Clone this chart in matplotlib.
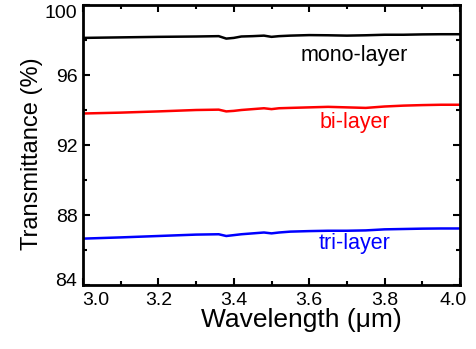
import matplotlib
matplotlib.use("Agg")
import matplotlib.pyplot as plt
from matplotlib.ticker import MultipleLocator
from matplotlib.transforms import ScaledTranslation

plt.rcParams['font.family'] = ['Liberation Sans', 'DejaVu Sans']

# wavelength (um) and transmittance (%)
wavelength = [3.00, 3.10, 3.20, 3.30, 3.36, 3.38, 3.40, 3.42, 3.45, 3.48, 3.50, 3.52,
              3.55, 3.60, 3.65, 3.70, 3.75, 3.80, 3.85, 3.90, 3.95, 4.00]
mono_layer = [98.12, 98.15, 98.18, 98.2, 98.22, 98.08, 98.12, 98.2, 98.22, 98.25, 98.18, 98.22,
              98.25, 98.28, 98.27, 98.25, 98.27, 98.3, 98.3, 98.32, 98.33, 98.33]
bi_layer = [93.8, 93.85, 93.92, 94.0, 94.02, 93.92, 93.95, 94.0, 94.05, 94.1, 94.05, 94.1,
            94.12, 94.15, 94.18, 94.15, 94.12, 94.2, 94.25, 94.28, 94.3, 94.3]
tri_layer = [86.65, 86.72, 86.8, 86.88, 86.9, 86.8, 86.85, 86.9, 86.95, 87.0, 86.95, 87.0,
             87.05, 87.08, 87.1, 87.1, 87.12, 87.18, 87.2, 87.22, 87.23, 87.23]

x_ticks = [3.0, 3.2, 3.4, 3.6, 3.8, 4.0]
x_ticklabels = ['3.0', '3.2', '3.4', '3.6', '3.8', '4.0']
y_ticks = [84, 88, 92, 96, 100]
y_ticklabels = ['84', '88', '92', '96', '100']

series = [
    (mono_layer, 'black', 'mono-layer', 97.1),
    (bi_layer, 'red', 'bi-layer', 93.3),
    (tri_layer, 'blue', 'tri-layer', 86.4),
]

fig = plt.figure(figsize=(4.77, 3.49), dpi=100)
ax = fig.add_axes([83 / 477, 1 - 285 / 349, 377 / 477, 280 / 349])

for values, color, label, ypos in series:
    ax.plot(wavelength, values, color=color, lw=1.8)
    ax.text(3.72, ypos, label, color=color, fontsize=15.5, ha='center', va='center')

ax.set_xticks(x_ticks, x_ticklabels)
ax.set_yticks(y_ticks, y_ticklabels)
ax.xaxis.set_minor_locator(MultipleLocator(0.1))
ax.yaxis.set_minor_locator(MultipleLocator(2))
ax.set_xlim(3.0, 4.0)
ax.set_ylim(84, 100)

ax.tick_params(which='both', direction='in', top=True, right=True, width=1.5, labelsize=14)
ax.tick_params(which='major', length=5)
ax.tick_params(which='minor', length=3)
ax.tick_params(axis='x', pad=5)
ax.tick_params(axis='y', pad=4)
for sp in ax.spines.values():
    sp.set_linewidth(2)

ax.set_xlabel('Wavelength (μm)', fontsize=19)
ax.set_ylabel('Transmittance (%)', fontsize=17)
ax.xaxis.set_label_coords(0.578, -0.082)
ax.yaxis.set_label_coords(-0.106, 0.468)

# end labels are nudged inward like in the original (offsets in pixels)
shifts = {x_ticklabels[0]: (13, 0), x_ticklabels[-1]: (-7, 0),
          y_ticklabels[0]: (0, 5), y_ticklabels[-1]: (0, -6)}
for t in ax.get_xticklabels() + ax.get_yticklabels():
    if t.get_text() in shifts:
        dx, dy = shifts[t.get_text()]
        t.set_transform(t.get_transform() + ScaledTranslation(dx / 100, dy / 100, fig.dpi_scale_trans))

fig.savefig('out.png', dpi=100)
